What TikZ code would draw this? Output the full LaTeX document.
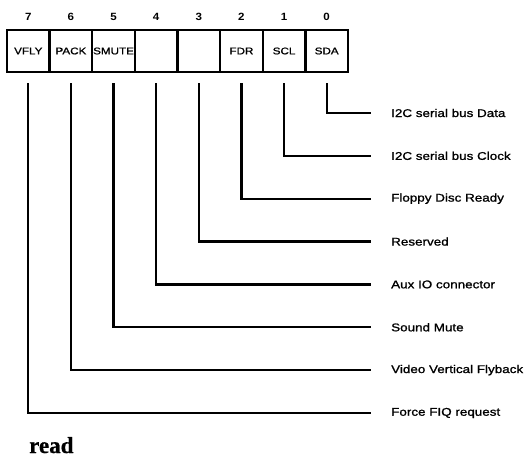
\documentclass[tikz,border=0pt]{standalone}
\usepackage{fontspec}
\setmainfont{Liberation Sans}
\newfontfamily\lblfont{Liberation Sans}[FakeStretch=1.2,FakeBold=1.2]
\newfontfamily\numfont{Liberation Sans Bold}[FakeStretch=1.1]
\newfontfamily\readfont{Liberation Serif Bold}[FakeBold=0.6]
\begin{document}
\begin{tikzpicture}[x=1pt,y=-1pt,
  cell/.style={draw, line width=2.3pt, minimum width=42.625pt, minimum height=42pt, inner sep=0pt,
    font=\lblfont\fontsize{9.7}{10}\selectfont},
  bitnum/.style={inner sep=0pt, font=\numfont\fontsize{10.5}{11}\selectfont},
  lbl/.style={anchor=west, inner sep=0pt, font=\lblfont\fontsize{11.2}{12}\selectfont},
  conn/.style={line width=2.3pt, line join=miter}]
\useasboundingbox (0,0) rectangle (531,460);
\foreach \b/\t in {7/VFLY,6/PACK,5/SMUTE,4/,3/,2/FDR,1/SCL,0/SDA}{
  \pgfmathsetmacro{\cx}{7+42.625*(7-\b+0.5)}
  \node[cell] (c\b) at (\cx,51) {\t};
  \node[bitnum] (n\b) at (\cx,17) {\b};
}
\foreach \b/\t in {0/I2C serial bus Data,1/I2C serial bus Clock,2/Floppy Disc Ready,3/Reserved,
  4/Aux IO connector,5/Sound Mute,6/Video Vertical Flyback,7/Force FIQ request}{
  \pgfmathsetmacro{\ly}{113+42.857*\b}
  \node[lbl] (l\b) at (391,\ly) {\t};
  \draw[conn] ([yshift=-10pt]c\b.south) |- ([xshift=-20pt]l\b.west);
}
\node[anchor=base west, inner sep=0pt, font=\readfont\fontsize{23}{26}\selectfont] (rd) at (29,453) {read};
\end{tikzpicture}
\end{document}
